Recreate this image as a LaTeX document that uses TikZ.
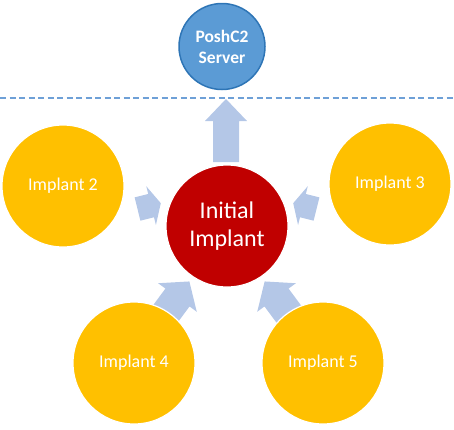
\documentclass[tikz,border=0pt]{standalone}
\usepackage{fontspec}
\setmainfont{Carlito}
\definecolor{srvfill}{RGB}{91,155,213}
\definecolor{srvline}{RGB}{46,117,182}
\definecolor{redfill}{RGB}{192,0,0}
\definecolor{yel}{RGB}{255,192,0}
\definecolor{arrcol}{RGB}{180,199,231}
\definecolor{dashcol}{RGB}{110,160,215}
\newcommand{\blockarrow}[6]{%
  \begin{scope}[shift={(#1)}, rotate=#2, x=1pt, y=1pt]
    \fill[arrowshape] (0,{-#4/2}) -- ({#3-#6},{-#4/2}) -- ({#3-#6},{-#5/2}) -- (#3,0)
      -- ({#3-#6},{#5/2}) -- ({#3-#6},{#4/2}) -- (0,{#4/2}) -- cycle;
  \end{scope}}
\begin{document}
\begin{tikzpicture}[x=1pt, y=-1pt,
  arrowshape/.style={fill=arrcol},
  implantc/.style={circle, fill=yel, draw=white, line width=1.2pt, minimum size=122pt,
    inner sep=0pt, text=white, font=\fontsize{18}{21.6}\selectfont},
  initc/.style={circle, fill=redfill, draw=white, line width=1.2pt, minimum size=122pt,
    inner sep=0pt, text=white, align=center, font=\fontsize{24}{28.5}\selectfont},
  serverc/.style={circle, fill=srvfill, draw=srvline, line width=1.5pt, minimum size=86pt,
    inner sep=0pt, text=white, align=center, font=\bfseries\fontsize{17.5}{21}\selectfont},
  sepline/.style={draw=dashcol, line width=1.5pt, dash pattern=on 6pt off 3.5pt}]
\useasboundingbox (0,0) rectangle (454,429);
% dashed separator
\coordinate (dl) at (0,98);
\coordinate (dr) at (454,98);
\draw[sepline] (dl) -- (dr);
% arrow tails
\coordinate (t1) at (226,162);
\coordinate (t2) at (137.5,209);
\coordinate (t3) at (316.5,209);
\coordinate (t4) at (162.6,317.6);
\coordinate (t5) at (291.4,317.6);
\blockarrow{t1}{90}{63}{26}{42}{22}
\blockarrow{t2}{14}{24}{24}{40}{10}
\blockarrow{t3}{166}{24}{24}{40}{10}
\blockarrow{t4}{53.5}{45}{30}{48}{20}
\blockarrow{t5}{126.5}{45}{30}{48}{20}
% nodes
\node[serverc] (srv) at (222,46.5) {PoshC2\\Server};
\node[initc] (init) at (227,226) {Initial\\Implant};
\node[implantc] (i2) at (63,186) {Implant 2};
\node[implantc] (i3) at (390,184) {Implant 3};
\node[implantc] (i4) at (134,363) {Implant 4};
\node[implantc] (i5) at (323,363) {Implant 5};
\end{tikzpicture}
\end{document}
